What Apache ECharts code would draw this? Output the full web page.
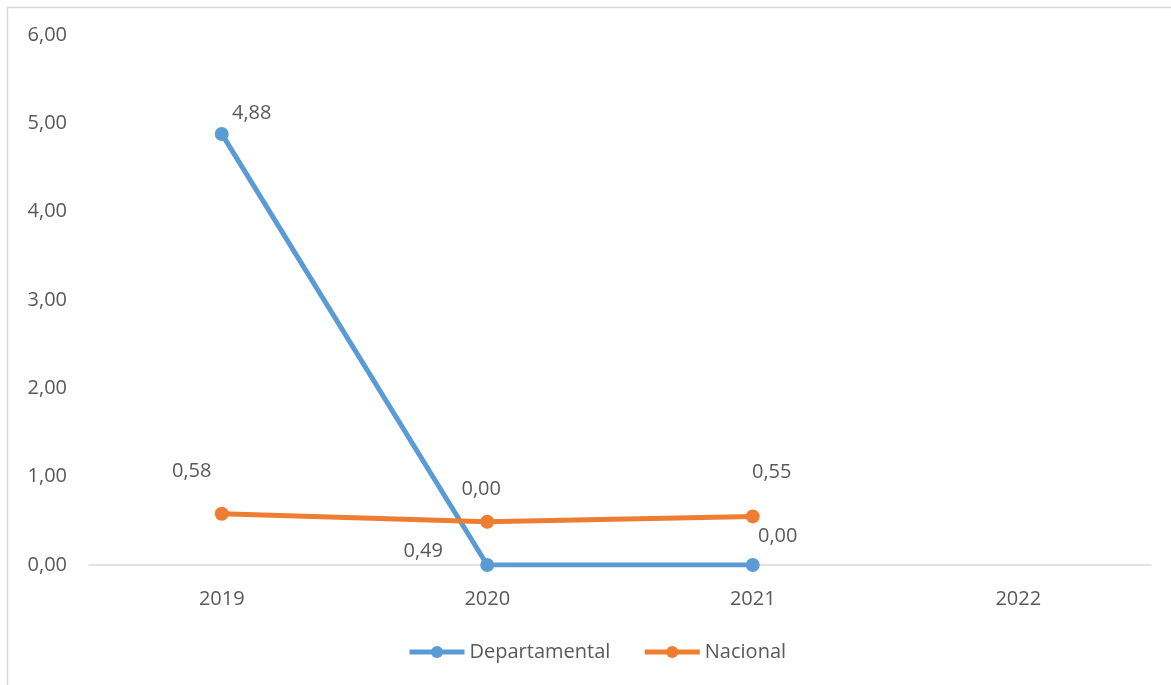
<!DOCTYPE html>
<html><head><meta charset="utf-8">
<script src="https://cdn.jsdelivr.net/npm/echarts@6/dist/echarts.min.js"></script>
<style>html,body{margin:0;padding:0;background:#fff;}#c{width:1171px;height:685px;}</style>
</head><body><div id="c"></div>
<script>
const categories = ['2019', '2020', '2021', '2022'];
const departamental = [4.88, 0.00, 0.00, null];
const nacional = [0.58, 0.49, 0.55, null];
const yTicks = [0, 1, 2, 3, 4, 5, 6];

// label offsets per point (style only)
const depOffsets = [[30, 1], [-6, -54], [25, -7], [0, 0]];
const nacOffsets = [[-30, -20], [-64, 52], [19, -22], [0, 0]];

const fmt = v => v.toFixed(2).replace('.', ',');
const FONT = '"Open Sans", "Liberation Sans", sans-serif';
const TXT = '#595959';
const FS = 20;

function build(vals, offs) {
  return vals.map((v, i) => v === null ? null : ({
    value: v,
    label: { offset: offs[i] }
  }));
}

const chart = echarts.init(document.getElementById('c'));
chart.setOption({
  animation: false,
  graphic: [{
    type: 'rect', left: 5, top: 5, silent: true,
    shape: { width: 1180, height: 700 },
    style: { fill: 'none', stroke: '#d9d9d9', lineWidth: 1.5 }
  }],
  grid: { left: 89, right: 20, top: 35, bottom: 120 },
  legend: {
    bottom: 23, left: 407, padding: 0, itemWidth: 55, itemHeight: 15, itemGap: 32,
    lineStyle: { width: 5 },
    textStyle: { color: TXT, fontSize: FS, fontFamily: FONT },
    data: ['Departamental', 'Nacional']
  },
  xAxis: {
    type: 'category', data: categories, boundaryGap: true,
    axisLine: { lineStyle: { color: '#d9d9d9', width: 1.5 } },
    axisTick: { show: false },
    axisLabel: { color: TXT, fontSize: FS, fontFamily: FONT, margin: 24 }
  },
  yAxis: {
    type: 'value', min: yTicks[0], max: yTicks[yTicks.length - 1], interval: 1,
    axisLine: { show: false }, axisTick: { show: false },
    splitLine: { show: false },
    axisLabel: { color: TXT, fontSize: FS, fontFamily: FONT, margin: 22, formatter: v => fmt(v) }
  },
  series: [
    {
      name: 'Departamental', type: 'line', data: build(departamental, depOffsets),
      color: '#5B9BD5', symbol: 'circle', symbolSize: 14,
      lineStyle: { width: 5, color: '#5B9BD5' },
      itemStyle: { color: '#5B9BD5' },
      label: { show: true, position: 'top', color: TXT, fontSize: FS, fontFamily: FONT,
               formatter: p => fmt(p.value) }
    },
    {
      name: 'Nacional', type: 'line', data: build(nacional, nacOffsets),
      color: '#ED7D31', symbol: 'circle', symbolSize: 14,
      lineStyle: { width: 5, color: '#ED7D31' },
      itemStyle: { color: '#ED7D31' },
      label: { show: true, position: 'top', color: TXT, fontSize: FS, fontFamily: FONT,
               formatter: p => fmt(p.value) }
    }
  ]
});
</script></body></html>
